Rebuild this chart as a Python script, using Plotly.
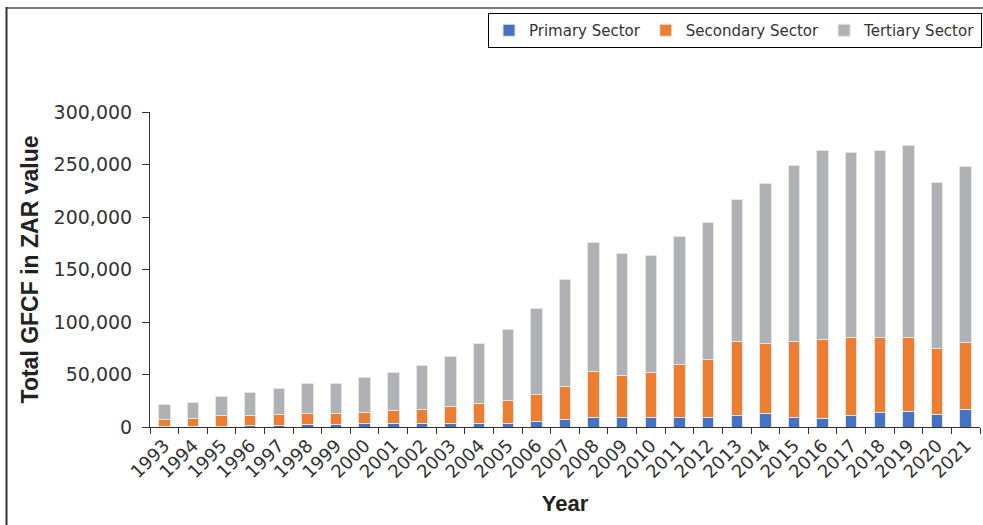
import plotly.graph_objects as go

years = [str(y) for y in range(1993, 2022)]
primary = [400, 500, 900, 1000, 1300, 2000, 2000, 3000, 3000, 3700, 3700, 3000, 3500, 5300, 6800,
           9500, 9500, 9500, 8900, 8900, 11400, 12700, 9500, 7900, 10800, 13700, 14600, 12100, 16500]
secondary = [6900, 7800, 9600, 10400, 10800, 10400, 10700, 11000, 12600, 13400, 15700, 19500, 22200, 26100, 31900,
             43200, 40000, 42200, 50500, 55200, 69600, 67300, 71800, 75700, 74200, 71100, 70400, 62200, 63800]
tertiary = [13700, 15500, 18700, 21300, 25000, 29200, 28600, 33000, 36100, 41600, 47900, 57200, 67600, 81900, 101600,
            122800, 115500, 111800, 122500, 130900, 136000, 152000, 167300, 180200, 176900, 179000, 183200, 158100, 168000]
y_ticks = [0, 50000, 100000, 150000, 200000, 250000, 300000]

series = [("Primary Sector", primary, "#4472C4"),
          ("Secondary Sector", secondary, "#ED7D31"),
          ("Tertiary Sector", tertiary, "#B0B1B5")]

fig = go.Figure()
for name, vals, col in series:
    fig.add_trace(go.Bar(x=years, y=vals, name=name,
                         marker=dict(color=col, line=dict(color="#e4e4e4", width=1))))

W, H = 983, 525
L, R, T, B = 150, 3, 112, 98
pw, ph = W - L - R, H - T - B

def px(xp):
    return (xp - L) / pw

def py(yp):
    return (H - B - yp) / ph

fig.update_layout(
    width=W, height=H,
    margin=dict(l=L, r=R, t=T, b=B, autoexpand=False),
    barmode="stack", bargap=0.6,
    paper_bgcolor="white", plot_bgcolor="white",
    font=dict(family="DejaVu Sans", color="#333333", size=17),
    showlegend=True,
    legend=dict(orientation="h", x=px(982), xanchor="right", y=py(13), yanchor="top",
                bordercolor="#000000", borderwidth=1, bgcolor="white",
                font=dict(size=15, color="#333333"), traceorder="normal",
                itemwidth=30),
    xaxis=dict(type="category", tickangle=-45, showline=True, linecolor="#333333", linewidth=1,
               ticks="outside", ticklen=6, tickcolor="#333333", tickson="boundaries",
               tickfont=dict(size=18), showgrid=False,
               title=dict(text="<b>Year</b>", font=dict(family="Liberation Sans", size=22, color="#222222"),
                          standoff=14)),
    yaxis=dict(range=[0, 300000], tickvals=y_ticks, tickformat=",d", showline=True,
               linecolor="#333333", linewidth=1, ticks="outside", ticklen=7, tickcolor="#333333",
               showgrid=False, zeroline=False, tickfont=dict(size=19), ticklabelstandoff=6,
               title=dict(text="<b>Total GFCF in ZAR value</b>",
                          font=dict(family="Liberation Sans", size=23, color="#222222"), standoff=8)),
    shapes=[
        dict(type="line", xref="paper", yref="paper", x0=px(6), x1=px(W), y0=py(8), y1=py(8),
             line=dict(color="#7a7a7a", width=2)),
        dict(type="line", xref="paper", yref="paper", x0=px(6.5), x1=px(6.5), y0=py(7), y1=py(H),
             line=dict(color="#333333", width=2)),
    ],
)

fig.write_html("out.html", config={"displayModeBar": False},
               post_script="document.body.style.margin='0';document.body.style.padding='0';")
